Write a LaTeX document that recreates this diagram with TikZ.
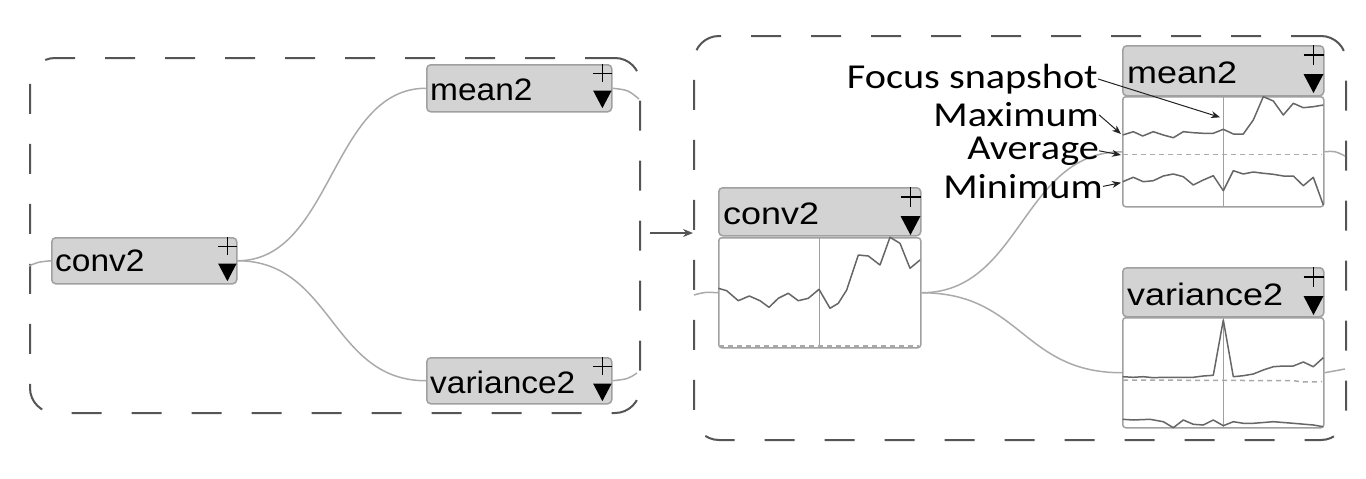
\documentclass[tikz,border=0pt]{standalone}
\usepackage{fontspec}
\usetikzlibrary{arrows.meta}
\newfontfamily\nfL[FakeStretch=1.08]{Liberation Sans}
\newfontfamily\nfR[FakeStretch=1.16]{Liberation Sans}
\newfontfamily\lblfont[FakeStretch=1.15]{Carlito}
\definecolor{hdrfill}{HTML}{D3D3D3}
\definecolor{hdrline}{HTML}{A0A0A0}
\definecolor{boxline}{HTML}{555555}
\definecolor{edgec}{HTML}{AAAAAA}
\definecolor{spark}{HTML}{666666}
\definecolor{annot}{HTML}{222222}
\newcommand\ctlmarks[2]{%
  \begin{scope}[shift={(#1.north east)},scale=#2]
    \draw[line width=1.4pt,black] (-21,10) -- (-1,10) (-11,0) -- (-11,20);
    \fill[black] (-21,29) -- (-1,29) -- (-11,48) -- cycle;
  \end{scope}}
\begin{document}
\begin{tikzpicture}[x=1pt,y=-1pt,
  group/.style={draw=boxline,line width=2pt,dash pattern=on 30pt off 30pt,rounded corners=25pt,inner sep=0pt},
  hdr/.style={draw=hdrline,fill=hdrfill,line width=1.5pt,rounded corners=4pt,inner sep=0pt,anchor=north west},
  chart/.style={draw=hdrline,fill=white,line width=1.5pt,rounded corners=3pt,inner sep=0pt,anchor=north west,minimum width=201pt,minimum height=110pt},
  ntL/.style={inner sep=0pt,anchor=base west,font=\nfL\fontsize{31}{31}\selectfont},
  ntR/.style={inner sep=0pt,anchor=base west,font=\nfR\fontsize{31}{31}\selectfont},
  lbl/.style={inner sep=0pt,anchor=base east,text=black,font=\lblfont\fontsize{35}{35}\selectfont},
  edge/.style={draw=edgec,line width=1.5pt},
  sline/.style={draw=spark,line width=1.5pt,line join=round},
  vline/.style={draw=hdrline,line width=1.5pt},
  avg/.style={draw=edgec,line width=1.5pt,dash pattern=on 5pt off 4pt},
  annarrow/.style={draw=annot,line width=1pt,-{Stealth[length=9pt,width=7pt]}}
]
\useasboundingbox (0,0) rectangle (1366,479);

% group boxes
\node[group,anchor=north west,minimum width=610pt,minimum height=355pt] (lgroup) at (29,57) {};
\node[group,anchor=north west,minimum width=652pt,minimum height=404pt] (rgroup) at (693,35) {};
\draw[draw=boxline,line width=1.5pt,-{Stealth[length=10pt,width=8pt]},shorten <=9pt]
  (lgroup.east |- 0,233) -- (rgroup.west |- 0,233);

% ---------- left graph ----------
\node[hdr,minimum width=185pt,minimum height=46pt] (lconv) at (51,237) {};
\node[hdr,minimum width=185pt,minimum height=47pt] (lmean) at (426,64) {};
\node[hdr,minimum width=185pt,minimum height=46pt] (lvar) at (426,357) {};
\node[ntL] (tlconv) at (55,271.5) {conv2};
\node[ntL] (tlmean) at (430,100) {mean2};
\node[ntL] (tlvar) at (430,393) {variance2};
\ctlmarks{lconv}{0.92}
\ctlmarks{lmean}{0.92}
\ctlmarks{lvar}{0.92}

\coordinate (ls1) at (29,266);
\coordinate (ls2) at (639,99);
\coordinate (ls3) at (637,373);
\draw[edge] (ls1) .. controls (38,262) .. (lconv.west);
\draw[edge] (lconv.east) .. controls +(95,0) and +(-95,0) .. (lmean.west);
\draw[edge] (lconv.east) .. controls +(95,0) and +(-95,0) .. (lvar.west);
\draw[edge] (lmean.east) .. controls (628,90) .. (ls2);
\draw[edge] (lvar.east) .. controls (628,379) .. (ls3);

% ---------- right graph ----------
\node[hdr,minimum width=202pt,minimum height=48pt] (rconv) at (718,187) {};
\node[hdr,minimum width=201pt,minimum height=50pt] (rmean) at (1122,45) {};
\node[hdr,minimum width=201pt,minimum height=49pt] (rvar) at (1122,267) {};
\node[chart,minimum width=202pt] (rconvc) at (718,237) {};
\node[chart] (rmeanc) at (1122,96) {};
\node[chart] (rvarc) at (1122,317) {};
\node[ntR] (trconv) at (723,224) {conv2};
\node[ntR] (trmean) at (1127,83.5) {mean2};
\node[ntR] (trvar) at (1127,305) {variance2};
\ctlmarks{rconv}{1}
\ctlmarks{rmean}{1}
\ctlmarks{rvar}{1}

\coordinate (rs1) at (694,295);
\coordinate (rs2) at (1345,156);
\coordinate (rs3) at (1345,369);
\draw[edge] (rs1) .. controls (705,292) .. (rconvc.west);
\draw[edge] (rconvc.east) .. controls +(100,0) and +(-100,0) .. (rmeanc.west);
\draw[edge] (rconvc.east) .. controls +(100,0) and +(-100,0) .. (rvarc.west);
\draw[edge] (rmeanc.east) .. controls (1335,151) .. (rs2);
\draw[edge] (rvarc.east) .. controls (1335,371) .. (rs3);

% conv2 sparkline
\draw[vline] (819.5,237) -- (819.5,347);
\draw[avg] (719,346) -- (919,346);
\draw[sline] (718.3,288.3) -- (726.7,290.7) -- (738.3,300.7) -- (749.3,296) -- (760,300.7) -- (769,307.3) -- (778.3,298.3) -- (788.3,293.3) -- (798.3,300.7) -- (808.3,298.3) -- (819,289.3) -- (830,308.3) -- (838.3,303.3) -- (846.7,290) -- (858.3,255) -- (868.3,256) -- (880,265) -- (890,237.3) -- (900,243.3) -- (910,268.3) -- (920,260);

% mean2 sparkline
\draw[vline] (1223.3,96) -- (1223.3,206);
\draw[avg] (1123,154.3) -- (1322,154.3);
\draw[sline] (1122.7,135) -- (1133.3,131.7) -- (1142.7,136) -- (1153.3,131.7) -- (1163.3,135) -- (1173.3,137.7) -- (1183.3,131.7) -- (1193.3,132.7) -- (1203.3,133.3) -- (1213.3,133.3) -- (1223.3,129.3) -- (1233.3,134) -- (1243.3,134) -- (1253.3,120) -- (1263.3,96.7) -- (1273.3,101) -- (1283.3,115) -- (1293.3,103.3) -- (1303.3,107.7) -- (1313.3,106.7) -- (1323.3,105);
\draw[sline] (1122.7,181.7) -- (1133.3,177.3) -- (1143.3,181.7) -- (1153.3,180.7) -- (1163.3,176) -- (1173.3,174) -- (1183.3,176.7) -- (1193.3,185) -- (1203.3,180) -- (1213.3,175.7) -- (1223.3,190.7) -- (1233.3,170.7) -- (1243.3,174) -- (1253.3,172) -- (1263.3,173.3) -- (1273.3,174.3) -- (1283.3,176) -- (1293.3,176) -- (1303.3,185.7) -- (1313.3,177.3) -- (1323.3,205);

% variance2 sparkline
\draw[vline] (1223.3,317) -- (1223.3,427);
\draw[avg] (1123,380) -- (1293.3,380.7) -- (1303.3,382) -- (1322,381.7);
\draw[sline] (1122.7,376.7) -- (1133.3,377.3) -- (1143.3,376.7) -- (1153.3,377.7) -- (1163.3,377.3) -- (1173.3,377.3) -- (1183.3,377.3) -- (1193.3,377.3) -- (1203.3,376) -- (1213.3,375.3) -- (1223.3,320) -- (1233.3,376.7) -- (1243.3,375.7) -- (1253.3,374) -- (1263.3,370) -- (1273.3,366.7) -- (1283.3,366) -- (1293.3,366) -- (1303.3,362) -- (1313.3,366.7) -- (1323.3,357.7);
\draw[sline] (1122.7,419.3) -- (1133.3,420) -- (1150,419.3) -- (1163.3,421.7) -- (1173.3,427.7) -- (1183.3,420) -- (1193.3,424.3) -- (1203.3,425) -- (1213.3,420) -- (1223.3,425.7) -- (1233.3,421.7) -- (1243.3,423.3) -- (1253.3,423.3) -- (1273.3,421.7) -- (1293.3,423.3) -- (1313.3,425) -- (1323.3,426.7);

% annotations
\node[lbl] (lfocus) at (1098,88.3) {Focus snapshot};
\node[lbl] (lmax) at (1099,126.7) {Maximum};
\node[lbl] (lavg) at (1099,159) {Average};
\node[lbl] (lmin) at (1103,198.3) {Minimum};
\coordinate (afocus) at (1220,117.3);
\coordinate (amax) at (1121,134);
\coordinate (aavg) at (1121,155);
\coordinate (amin) at (1121,182.7);
\draw[annarrow] (lfocus.east) -- (afocus);
\draw[annarrow] (lmax.east) -- (amax);
\draw[annarrow] (lavg.east) -- (aavg);
\draw[annarrow] (lmin.east) -- (amin);
\end{tikzpicture}
\end{document}
